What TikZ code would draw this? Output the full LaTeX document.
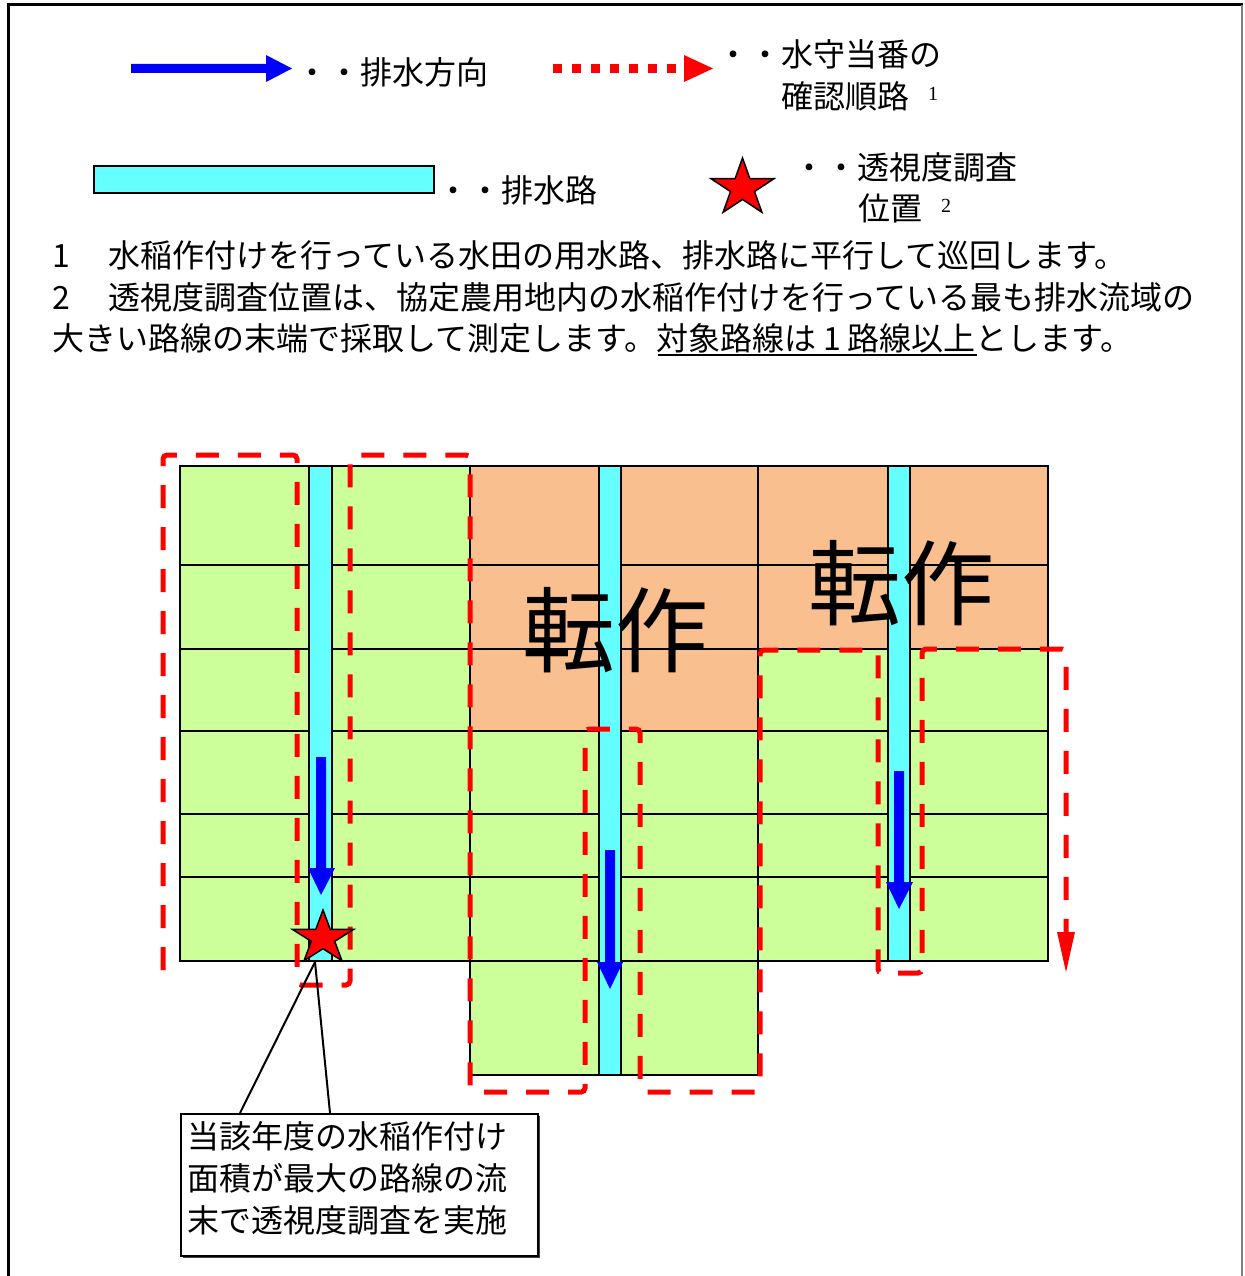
\documentclass[tikz,border=0pt]{standalone}
\usepackage{fontspec}
\setmainfont{Noto Sans CJK JP}
\newfontfamily\serifnum{Liberation Serif}
\usetikzlibrary{calc}
\definecolor{paddy}{HTML}{CCFF99}
\definecolor{tensaku}{HTML}{F9BF8F}
\definecolor{drain}{HTML}{66FFFF}
\tikzset{
  pics/fivestar/.style={code={
    \draw[fill=red, draw=black, line width=1.5pt, line join=miter]
      (-90:#1) -- (-54:{0.382*#1}) -- (-18:#1) -- (18:{0.382*#1}) -- (54:#1)
      -- (90:{0.382*#1}) -- (126:#1) -- (162:{0.382*#1}) -- (198:#1)
      -- (234:{0.382*#1}) -- cycle;}}
}
\begin{document}
\begin{tikzpicture}[x=1pt,y=-1pt,
  txt/.style={anchor=base west, inner sep=0pt, font=\fontsize{32}{32}\selectfont},
  supnum/.style={anchor=base west, inner sep=0pt, font=\fontsize{20}{20}\serifnum},
  gridline/.style={line width=2.5pt, draw=black},
  channel/.style={fill=drain, draw=black, line width=2.5pt},
  route/.style={draw=red, line width=5pt, dash pattern=on 23pt off 19pt, rounded corners=4pt},
  flow/.style={fill=blue},
  big/.style={anchor=base, inner sep=0pt, font=\fontsize{93}{93}\selectfont},
]
\useasboundingbox (0,0) rectangle (1244,1276);
% frame
\draw[line width=3pt] (8,1276) -- (8,5) -- (1243,5);
\draw[gray, line width=1.5pt] (1242,5) -- (1242,1276);

% ---------- legend ----------
\fill[flow] (131,64) -- (266,64) -- (266,55) -- (292,68.5) -- (266,82) -- (266,73) -- (131,73) -- cycle;
\node[txt] (lg1) at (296,85) {・・排水方向};
\draw[red, line width=9.5pt, dash pattern=on 9pt off 10pt] (553,68.5) -- (684,68.5);
\fill[red] (684,55) -- (713,68.5) -- (684,82) -- cycle;
\node[txt] (lg2a) at (717,67) {・・水守当番の};
\node[txt] (lg2b) at (781,109) {確認順路};
\node[supnum] (lg2s) at (928,101) {1};
\draw[channel] (94,166) rectangle (434,193);
\node[txt] (lg3) at (437,202) {・・排水路};
\pic[xscale=1.1] at (742.5,188) {fivestar=30};
\node[txt] (lg4a) at (793,179) {・・透視度調査};
\node[txt] (lg4b) at (858,220) {位置};
\node[supnum] (lg4s) at (941,212) {2};

% ---------- notes ----------
\node[txt] (n1) at (52,267) {\makebox[56pt][l]{1}水稲作付けを行っている水田の用水路、排水路に平行して巡回します。};
\node[txt] (n2) at (52,309) {\makebox[56pt][l]{2}透視度調査位置は、協定農用地内の水稲作付けを行っている最も排水流域の};
\node[txt] (n3) at (52,350) {大きい路線の末端で採取して測定します。対象路線は\hspace{7pt}1\hspace{7pt}路線以上とします。};
\draw[line width=1.5pt] (658,355) -- (977,355);

% ---------- fields ----------
\fill[paddy] (180,466) rectangle (470,961);
\fill[tensaku] (470,466) rectangle (758,731);
\fill[paddy] (470,731) rectangle (758,1075);
\fill[tensaku] (758,466) rectangle (1048,649);
\fill[paddy] (758,649) rectangle (1048,961);
\foreach \yy in {565,649,731,814,877} \draw[gridline] (180,\yy) -- (1048,\yy);
\draw[gridline] (470,961) -- (758,961);
\draw[gridline] (470,466) -- (470,961);
\draw[gridline] (758,466) -- (758,961);
\draw[gridline] (180,466) -- (1048,466) -- (1048,961) -- (758,961) -- (758,1075)
  -- (470,1075) -- (470,961) -- (180,961) -- cycle;
\draw[channel] (309,466) rectangle (332,961);
\draw[channel] (599,466) rectangle (621,1075);
\draw[channel] (888,466) rectangle (910,961);

\node[big] (tA) at (615,665) {転作};
\node[big] (tB) at (901,618) {転作};

% flow arrows
\fill[flow] (316,757) -- (326,757) -- (326,868) -- (335,868) -- (321,895) -- (308,868) -- (316,868) -- cycle;
\fill[flow] (605,850) -- (615,850) -- (615,962) -- (623,962) -- (610,989) -- (597,962) -- (605,962) -- cycle;
\fill[flow] (894,771) -- (904,771) -- (904,882) -- (913,882) -- (899,909) -- (886,882) -- (894,882) -- cycle;

% check route
\draw[route] (163,970) -- (163,455) -- (297,455) -- (297,985) -- (350,985) -- (350,455)
  -- (470,455) -- (470,1092) -- (585,1092) -- (585,729) -- (640,729) -- (640,1092)
  -- (760,1092) -- (760,650) -- (878,650) -- (878,973) -- (922,973) -- (922,649)
  -- (1066,649) -- (1066,934);
\fill[red] (1057,932) -- (1075,932) -- (1066,972) -- cycle;

% callout
\coordinate (surveypt) at (315,962);
\fill[black!75] (183,1116) rectangle (540,1258);
\node[draw, line width=2pt, fill=white, anchor=north west, minimum width=357pt,
  minimum height=142pt, inner sep=0pt] (note) at (180,1113) {};
\node[anchor=north west, inner xsep=7pt, inner ysep=0pt, align=left,
  font=\fontsize{32}{42}\selectfont] (notetext) at ($(note.north west)+(0,8)$)
  {当該年度の水稲作付け\\面積が最大の路線の流\\末で透視度調査を実施};
\draw[line width=2pt] (surveypt) -- ($(note.north west)+(60,0)$);
\draw[line width=2pt] (surveypt) -- ($(note.north west)+(150,0)$);
\pic[xscale=1.15] at (323,938) {fivestar=28};
\end{tikzpicture}
\end{document}
